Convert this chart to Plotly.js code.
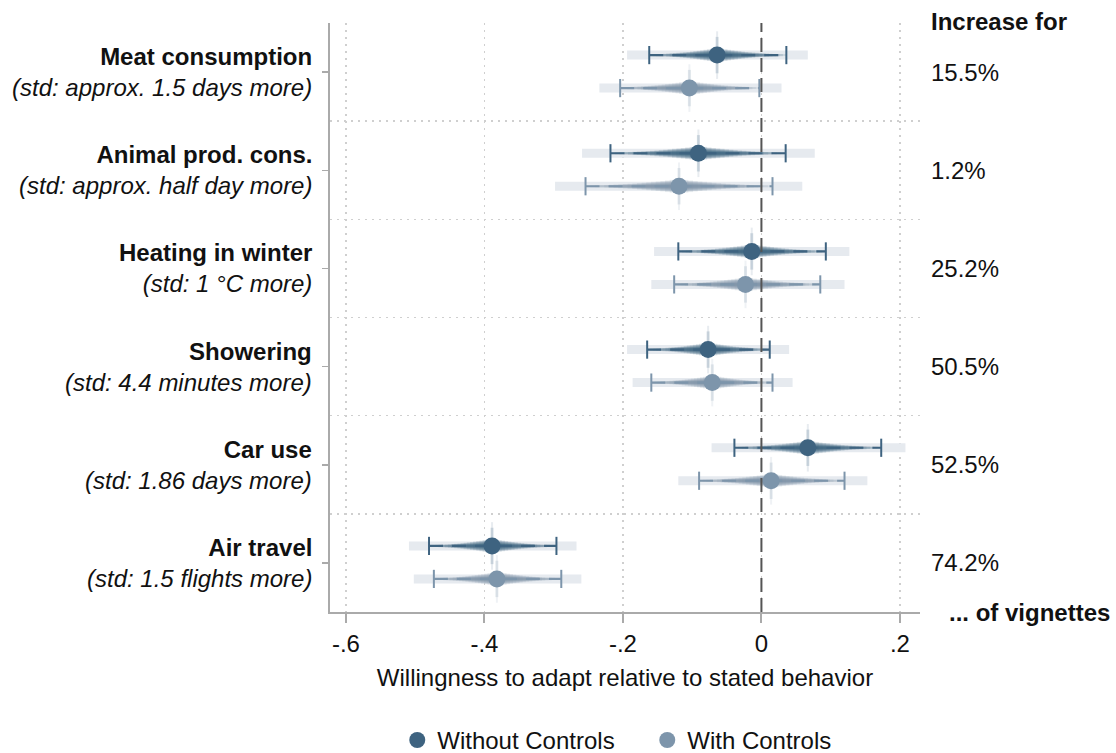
<!DOCTYPE html>
<html>
<head>
<meta charset="utf-8">
<script src="https://cdn.plot.ly/plotly-3.0.1.min.js"></script>
<style>html,body{margin:0;padding:0;background:#fff;}#chart{width:1116px;height:753px;}</style>
</head>
<body>
<div id="chart"></div>
<script>
// ---------- data ----------
const categories = ["Meat consumption","Animal prod. cons.","Heating in winter","Showering","Car use","Air travel"];
const stdNotes = ["(std: approx. 1.5 days more)","(std: approx. half day more)","(std: 1 °C more)","(std: 4.4 minutes more)","(std: 1.86 days more)","(std: 1.5 flights more)"];
const increasePct = ["15.5%","1.2%","25.2%","50.5%","52.5%","74.2%"];
const xTickVals = [-0.6,-0.4,-0.2,0,0.2];
const xTickText = ["-.6","-.4","-.2","0",".2"];

const estNoCtrl  = [-0.064,-0.091,-0.014,-0.077, 0.067,-0.389];
const lo95NoCtrl = [-0.162,-0.218,-0.120,-0.165,-0.039,-0.480];
const hi95NoCtrl = [ 0.036, 0.035, 0.093, 0.012, 0.173,-0.296];
const lo99NoCtrl = [-0.194,-0.259,-0.155,-0.194,-0.072,-0.509];
const hi99NoCtrl = [ 0.067, 0.077, 0.127, 0.040, 0.208,-0.267];

const estCtrl  = [-0.104,-0.119,-0.023,-0.071, 0.014,-0.382];
const lo95Ctrl = [-0.204,-0.254,-0.126,-0.159,-0.090,-0.473];
const hi95Ctrl = [-0.003, 0.016, 0.085, 0.016, 0.120,-0.289];
const lo99Ctrl = [-0.234,-0.298,-0.159,-0.186,-0.120,-0.502];
const hi99Ctrl = [ 0.029, 0.059, 0.120, 0.045, 0.153,-0.260];

// ---------- build ----------
const FONT = "Liberation Sans, Arial, sans-serif";
const FS = 24;
const series = [
  {name:"Without Controls", est:estNoCtrl, lo:lo95NoCtrl, hi:hi95NoCtrl, lo2:lo99NoCtrl, hi2:hi99NoCtrl, off:0.327, rgb:[62,99,128]},
  {name:"With Controls",    est:estCtrl,   lo:lo95Ctrl,   hi:hi95Ctrl,   lo2:lo99Ctrl,   hi2:hi99Ctrl,   off:0.663, rgb:[125,149,171]}
];
const rgba = (c,a)=>`rgba(${c[0]},${c[1]},${c[2]},${a})`;

const traces = [];
function segs(ys, los, his){
  const x=[], y=[];
  for(let i=0;i<ys.length;i++){ x.push(los[i],his[i],null); y.push(ys[i],ys[i],null); }
  return {x,y};
}
series.forEach(s=>{
  const ys = categories.map((_,i)=>i+s.off);
  const col = rgba(s.rgb,1);
  // faint outer band
  let sg = segs(ys, s.lo2, s.hi2);
  traces.push({x:sg.x,y:sg.y,mode:'lines',line:{color:'rgba(230,234,239,1)',width:9},hoverinfo:'skip',showlegend:false});
  // vertical faint spike
  traces.push({x:s.est,y:ys,mode:'markers',marker:{symbol:'line-ns-open',size:34,color:rgba(s.rgb,0.12),line:{color:rgba(s.rgb,0.12),width:2}},hoverinfo:'skip',showlegend:false});
  traces.push({x:s.est,y:ys,mode:'markers',marker:{symbol:'line-ns-open',size:26,color:rgba(s.rgb,0.2),line:{color:rgba(s.rgb,0.2),width:3}},hoverinfo:'skip',showlegend:false});
  // spindle (graded CI)
  const N=20;
  for(let k=0;k<N;k++){
    const f = 1 - k/N;
    const w = 2 + 13*Math.pow(1-f,1.8);
    const los = s.est.map((e,i)=>e - f*(e - s.lo[i]));
    const his = s.est.map((e,i)=>e + f*(s.hi[i]-e));
    const g = segs(ys, los, his);
    traces.push({x:g.x,y:g.y,mode:'lines',line:{color:rgba(s.rgb,0.15),width:w},hoverinfo:'skip',showlegend:false});
  }
  // dashed 95% CI
  sg = segs(ys, s.lo, s.hi);
  traces.push({x:sg.x,y:sg.y,mode:'lines',line:{color:col,width:2.2,dash:'14px,9px'},hoverinfo:'skip',showlegend:false});
  // caps
  traces.push({x:s.lo.concat(s.hi),y:ys.concat(ys),mode:'markers',
    marker:{symbol:'line-ns-open',size:13,color:col,line:{color:col,width:2}},hoverinfo:'skip',showlegend:false});
  // point estimate
  traces.push({x:s.est,y:ys,mode:'markers',name:s.name,marker:{symbol:'circle',size:17,color:col,line:{width:0}},showlegend:true});
});

const annotations = [
  {xref:'paper',yref:'paper',x:1.015,y:1.002,xanchor:'left',yanchor:'middle',text:'<b>Increase for</b>',showarrow:false,font:{size:FS,color:'#111',family:FONT}},
  {xref:'paper',yref:'paper',x:1.046,y:0,xanchor:'left',yanchor:'middle',text:'<b>... of vignettes</b>',showarrow:false,font:{size:FS,color:'#111',family:FONT}}
];
increasePct.forEach((p,i)=>annotations.push({xref:'paper',yref:'y',x:1.015,y:i+0.5,xanchor:'left',yanchor:'middle',text:p,showarrow:false,font:{size:FS,color:'#111',family:FONT}}));
categories.forEach((c,i)=>{
  annotations.push({xref:'paper',yref:'y',x:0,xshift:-16,y:i+0.5,xanchor:'right',yanchor:'middle',align:'right',
    text:`<b>${c}</b><br><i>${stdNotes[i]}</i>`,showarrow:false,font:{size:FS,color:'#111',family:FONT}});
});

const dotGrid = '2px,5px';
const layout = {
  width:1116,height:753,
  margin:{l:330,r:196,t:23,b:141,autoexpand:false},
  paper_bgcolor:'#fff',plot_bgcolor:'#fff',
  font:{family:FONT,size:FS,color:'#111'},
  xaxis:{range:[-0.623,0.229],tickvals:xTickVals,ticktext:xTickText,automargin:false,
    showgrid:true,gridcolor:'#cfcfcf',griddash:dotGrid,gridwidth:1.5,zeroline:false,
    showline:true,linecolor:'#aaaaaa',linewidth:2,ticks:'outside',ticklen:9,tickwidth:2,tickcolor:'#aaaaaa',
    tickfont:{size:FS,color:'#111'},
    title:{text:'Willingness to adapt relative to stated behavior',font:{size:FS,color:'#111'},standoff:13}},
  yaxis:{range:[6,0],tickvals:categories.map((_,i)=>i+0.5),ticktext:categories.map(()=>''),automargin:false,
    showgrid:false,zeroline:false,showline:true,linecolor:'#aaaaaa',linewidth:2,
    ticks:'outside',ticklen:6,tickwidth:1.5,tickcolor:'#aaaaaa',
    minor:{tickvals:[1,2,3,4,5],showgrid:true,gridcolor:'#cfcfcf',griddash:dotGrid,gridwidth:1.5,ticklen:0}},
  shapes:[{type:'line',xref:'x',yref:'paper',x0:0,x1:0,y0:0,y1:1,line:{color:'#555555',width:2,dash:'14px,6px'},layer:'above'}],
  annotations,
  legend:{orientation:'h',x:0.114,xanchor:'left',y:-0.218,yanchor:'middle',font:{size:FS,color:'#111'},itemwidth:30,entrywidth:205,entrywidthmode:'pixels',traceorder:'normal'},
  showlegend:true
};
Plotly.newPlot('chart',traces,layout,{displayModeBar:false,staticPlot:true});
</script>
</body>
</html>
